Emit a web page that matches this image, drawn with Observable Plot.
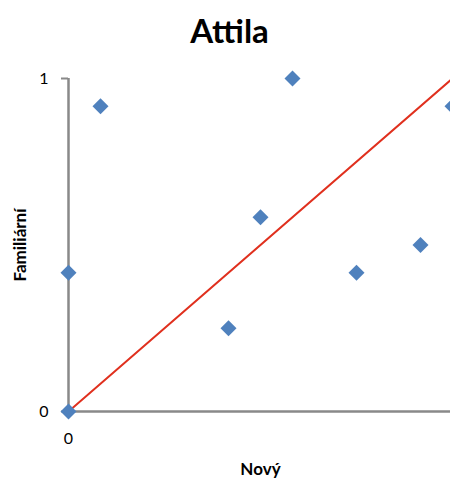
<!DOCTYPE html>
<html>
<head>
<meta charset="utf-8">
<script src="https://cdn.jsdelivr.net/npm/d3@7"></script>
<script src="https://cdn.jsdelivr.net/npm/@observablehq/plot@0.6"></script>
<style>
  html, body { margin: 0; padding: 0; background: #fff; overflow: hidden; }
  svg { overflow: hidden; }
</style>
</head>
<body>
<div id="chart"></div>
<script>
const title = "Attila";
const xLabel = "Nový";
const yLabel = "Familiární";
const novy = [0, 0, 1/12, 5/12, 6/12, 7/12, 9/12, 11/12, 12/12];
const familiarni = [0, 5/12, 11/12, 3/12, 7/12, 1, 5/12, 6/12, 11/12];
const refLineX = [0, 1];
const refLineY = [0, 1];
const yTicks = [0, 1];
const xTicks = [0];

const points = novy.map((x, i) => ({x, y: familiarni[i]}));
const refLine = refLineX.map((x, i) => ({x, y: refLineY[i]}));

const font = "Lato, 'Open Sans', sans-serif";

const chart = Plot.plot({
  width: 450,
  height: 479,
  marginLeft: 68,
  marginRight: 0,
  marginTop: 78,
  marginBottom: 68,
  style: {fontFamily: font, fontSize: "16px", color: "#000", background: "#fff"},
  x: {domain: [0, 1], range: [68, 452]},
  y: {domain: [0, 1]},
  marks: [
    Plot.axisY({ticks: yTicks, tickSize: 7, tickPadding: 13, tickFormat: d => String(d), label: null, stroke: "#898989", strokeWidth: 2, strokeOpacity: 1, fontSize: 16, fill: "#000"}),
    Plot.axisX({ticks: xTicks, tickSize: 0, tickPadding: 21, tickFormat: d => String(d), label: null, fontSize: 16, fill: "#000"}),
    Plot.ruleX([0], {y1: 0, y2: 1, stroke: "#898989", strokeWidth: 2.5}),
    Plot.ruleY([0], {x1: 0, x2: 1.1, stroke: "#898989", strokeWidth: 2.5}),
    Plot.line(refLine, {x: "x", y: "y", stroke: "#e0301e", strokeWidth: 2}),
    Plot.dot(points, {x: "x", y: "y", symbol: "diamond2", r: 7.2, fill: "#4f81bd", stroke: "none"}),
    Plot.text([title], {frameAnchor: "top-left", dx: 229 - 68, dy: -36, text: d => d, textAnchor: "middle", lineAnchor: "bottom", fontSize: 33, fontWeight: "bold", fill: "#000"}),
    Plot.text([yLabel], {frameAnchor: "left", dx: -48, rotate: -90, text: d => d, textAnchor: "middle", lineAnchor: "middle", fontSize: 17, fontWeight: "bold", fill: "#000"}),
    Plot.text([xLabel], {frameAnchor: "bottom-left", dx: 260 - 68, dy: 63, text: d => d, textAnchor: "middle", lineAnchor: "bottom", fontSize: 17, fontWeight: "bold", fill: "#000"})
  ]
});
document.getElementById("chart").appendChild(chart);
</script>
</body>
</html>
